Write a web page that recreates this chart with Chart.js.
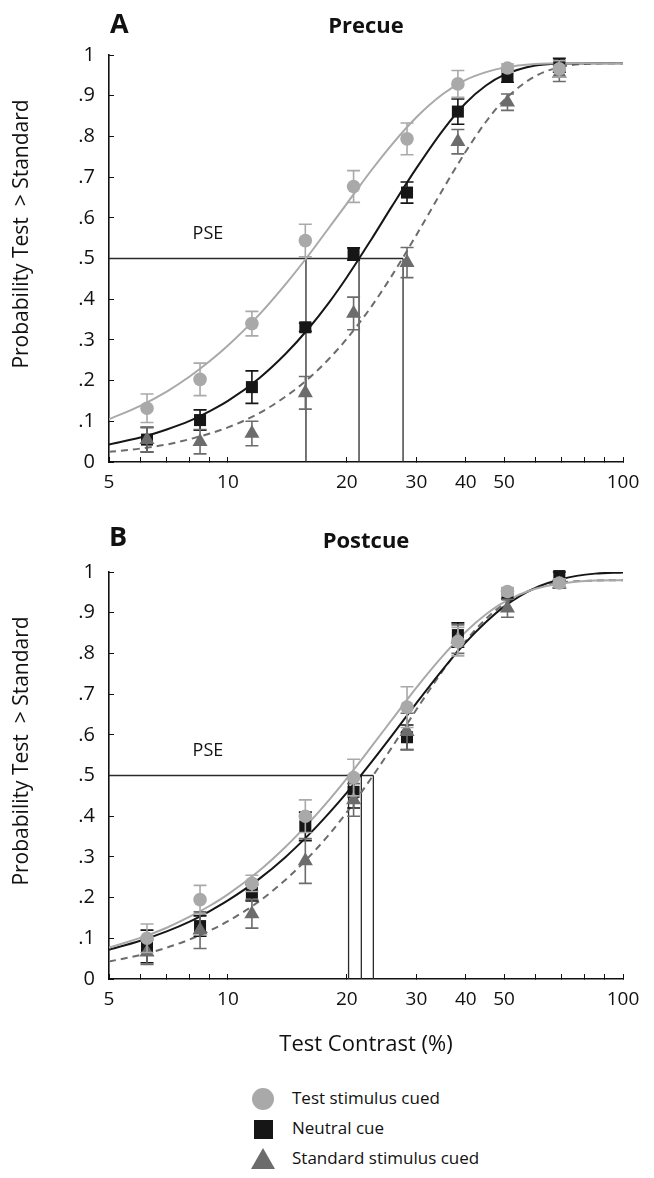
<!DOCTYPE html>
<html><head><meta charset="utf-8">
<script src="https://cdn.jsdelivr.net/npm/chart.js@4.4.0/dist/chart.umd.min.js"></script>
<style>
html,body{margin:0;padding:0;background:#fff;}
body{width:654px;height:1178px;position:relative;overflow:hidden;font-family:"Open Sans",sans-serif;color:#111;}
.abs{position:absolute;white-space:nowrap;line-height:1;}
.bold{font-weight:700;}
canvas{position:absolute;left:0;}
</style></head><body>
<canvas id="c1" width="654" height="500" style="top:0"></canvas>
<canvas id="c2" width="654" height="570" style="top:500px"></canvas>
<div class="abs bold" style="left:110px;top:9px;font-size:27px;">A</div>
<div class="abs bold" style="left:366px;top:13px;font-size:22px;transform:translateX(-50%);">Precue</div>
<div class="abs bold" style="left:109px;top:522px;font-size:27px;">B</div>
<div class="abs bold" style="left:366px;top:528px;font-size:22px;transform:translateX(-50%);">Postcue</div>
<div id="legend"></div>
<script>
// ---------- data ----------
const seriesNames = ['Test stimulus cued', 'Neutral cue', 'Standard stimulus cued'];
const contrast = [6.24, 8.5, 11.5, 15.7, 20.8, 28.4, 38.2, 51, 69];

// Panel A: Precue
const preTest        = [0.132, 0.203, 0.340, 0.544, 0.677, 0.794, 0.929, 0.968, 0.966];
const preTestErr     = [0.035, 0.040, 0.030, 0.040, 0.039, 0.039, 0.033, 0.010, 0.020];
const preNeutral     = [0.055, 0.103, 0.184, 0.331, 0.511, 0.662, 0.861, 0.948, 0.975];
const preNeutralErr  = [0.030, 0.025, 0.040, 0.010, 0.015, 0.026, 0.031, 0.015, 0.017];
const preStandard    = [0.055, 0.050, 0.070, 0.170, 0.365, 0.490, 0.787, 0.884, 0.955];
const preStandardErr = [0.030, 0.030, 0.030, 0.040, 0.040, 0.037, 0.030, 0.020, 0.020];

// Panel B: Postcue
const postTest        = [0.100, 0.195, 0.235, 0.400, 0.495, 0.668, 0.829, 0.952, 0.973];
const postTestErr     = [0.035, 0.035, 0.020, 0.040, 0.045, 0.050, 0.035, 0.010, 0.010];
const postNeutral     = [0.080, 0.130, 0.212, 0.375, 0.460, 0.594, 0.845, 0.945, 0.990];
const postNeutralErr  = [0.040, 0.025, 0.020, 0.035, 0.040, 0.030, 0.030, 0.010, 0.010];
const postStandard    = [0.066, 0.120, 0.160, 0.290, 0.440, 0.608, 0.835, 0.911, 0.970];
const postStandardErr = [0.030, 0.045, 0.035, 0.055, 0.040, 0.045, 0.035, 0.022, 0.010];

// fitted curves
const curveX = [5, 6, 7, 8, 9, 10, 12, 14, 16, 18, 20, 23, 26, 30, 35, 40, 45, 50, 60, 70, 85, 100];
const preTestFit      = [0.105,0.138,0.173,0.210,0.248,0.286,0.362,0.437,0.508,0.575,0.635,0.715,0.780,0.847,0.904,0.939,0.958,0.969,0.978,0.980,0.980,0.980];
const preNeutralFit   = [0.043,0.060,0.080,0.101,0.125,0.150,0.206,0.266,0.328,0.391,0.454,0.545,0.628,0.722,0.815,0.882,0.925,0.951,0.974,0.979,0.980,0.980];
const preStandardFit  = [0.025,0.033,0.043,0.056,0.070,0.085,0.120,0.161,0.205,0.253,0.303,0.380,0.458,0.558,0.670,0.763,0.836,0.889,0.948,0.971,0.979,0.980];
const postTestFit     = [0.077,0.101,0.126,0.153,0.180,0.208,0.266,0.325,0.383,0.439,0.493,0.569,0.637,0.716,0.794,0.853,0.896,0.926,0.959,0.972,0.979,0.980];
const postNeutralFit  = [0.072,0.094,0.117,0.141,0.167,0.193,0.246,0.300,0.354,0.407,0.458,0.531,0.598,0.678,0.761,0.827,0.877,0.915,0.961,0.983,0.996,0.999];
const postStandardFit = [0.043,0.059,0.077,0.097,0.119,0.142,0.191,0.244,0.299,0.354,0.410,0.492,0.569,0.662,0.758,0.831,0.885,0.921,0.960,0.974,0.979,0.980];

// points of subjective equality (test, neutral, standard)
const prePSE  = [15.76, 21.47, 27.75];
const postPSE = [20.2, 21.76, 23.34];

// axes
const xTickValues = [5, 6, 7, 8, 9, 10, 20, 30, 40, 50, 60, 70, 80, 90, 100];
const xTickLabels = [5, 10, 20, 30, 40, 50, 100];
const yTickLabels = ['0', '.1', '.2', '.3', '.4', '.5', '.6', '.7', '.8', '.9', '1'];

// ---------- styling ----------
const COL_TEST = '#a9a9a9', COL_NEU = '#161616', COL_STD = '#6c6c6c';
const FONT = '"Open Sans", sans-serif';
Chart.defaults.font.family = FONT;
Chart.defaults.color = '#111';

const errorBarPlugin = {
  id: 'errorBars',
  beforeDatasetDraw(chart, args) {
    const ds = chart.data.datasets[args.index];
    if (!ds.errors) return;
    const {ctx, scales: {x, y}} = chart;
    ctx.save();
    ctx.strokeStyle = ds.errorColor;
    ctx.lineWidth = 1.6;
    ds.data.forEach((pt, i) => {
      const e = ds.errors[i];
      const px = x.getPixelForValue(pt.x);
      const yt = y.getPixelForValue(pt.y + e);
      const yb = y.getPixelForValue(pt.y - e);
      ctx.beginPath();
      ctx.moveTo(px, yt); ctx.lineTo(px, yb);
      ctx.moveTo(px - 6.5, yt); ctx.lineTo(px + 6.5, yt);
      ctx.moveTo(px - 6.5, yb); ctx.lineTo(px + 6.5, yb);
      ctx.stroke();
    });
    ctx.restore();
  }
};

const textLabelPlugin = {
  id: 'textLabel',
  afterDatasetsDraw(chart, args, opts) {
    if (!opts || !opts.text) return;
    const {ctx, scales: {x, y}} = chart;
    ctx.save();
    ctx.font = '18px ' + FONT;
    ctx.fillStyle = '#111';
    ctx.textAlign = 'center';
    ctx.textBaseline = 'middle';
    ctx.fillText(opts.text, x.getPixelForValue(opts.x), y.getPixelForValue(opts.y));
    ctx.restore();
  }
};

function pts(vals) { return contrast.map((c, i) => ({x: c, y: vals[i]})); }
function curve(vals) { return curveX.map((c, i) => ({x: c, y: vals[i]})); }

function buildDatasets(t, te, n, ne, s, se, tf, nf, sf, pse) {
  const pseMax = Math.max(...pse);
  const marker = (label, data, err, style, color, r) => ({
    label, data, errors: err, errorColor: color, showLine: false,
    pointStyle: style, pointRadius: r, pointHoverRadius: r,
    pointBackgroundColor: color, pointBorderColor: color, pointBorderWidth: 0,
    borderColor: color, backgroundColor: color, clip: false
  });
  const line = (label, data, color, dash) => ({
    label, data, borderColor: color, borderWidth: 2, borderDash: dash || [],
    pointRadius: 0, tension: 0.4, cubicInterpolationMode: 'monotone', fill: false
  });
  const ds = [
    marker(seriesNames[0], pts(t), te, 'circle', COL_TEST, 6.8),
    marker(seriesNames[2], pts(s), se, 'triangle', COL_STD, 8.7),
    marker(seriesNames[1], pts(n), ne, 'rect', COL_NEU, 8.5),
    line('fit test', curve(tf), COL_TEST),
    line('fit neutral', curve(nf), COL_NEU),
    line('fit standard', curve(sf), COL_STD, [7, 5]),
    {label: 'PSE', data: [{x: 5, y: 0.5}, {x: pseMax, y: 0.5}], borderColor: '#2a2a2a', borderWidth: 1.3, pointRadius: 0, tension: 0}
  ];
  pse.forEach((p, i) => ds.push({label: 'PSE ' + i, data: [{x: p, y: 0}, {x: p, y: 0.5}], borderColor: '#2a2a2a', borderWidth: 1.3, pointRadius: 0, tension: 0}));
  return ds;
}

function makeOptions(padTop, xHeight, showXTitle) {
  const tickGrid = {display: true, drawOnChartArea: false, drawTicks: true, tickLength: -5, color: '#111', lineWidth: 1};
  return {
    responsive: false, animation: false,
    layout: {padding: {top: padTop, right: 31, left: 0, bottom: 0}},
    plugins: {legend: {display: false}, tooltip: {enabled: false},
              textLabel: {text: 'PSE', x: 8.9, y: 0.56}},
    scales: {
      x: {
        type: 'logarithmic', min: 5, max: 100,
        grid: tickGrid,
        border: {display: true, color: '#111', width: 1.6},
        afterBuildTicks: (sc) => { sc.ticks = xTickValues.map(v => ({value: v})); },
        afterFit: (sc) => { sc.height = xHeight; },
        ticks: {
          autoSkip: false, maxRotation: 0, padding: 14,
          font: {size: 19}, color: '#111',
          callback: (v) => xTickLabels.includes(v) ? String(v) : ''
        },
        title: {display: showXTitle, text: 'Test Contrast (%)', font: {size: 22}, color: '#111', padding: {bottom: 12, top: 0}}
      },
      y: {
        min: 0, max: 1,
        grid: tickGrid,
        border: {display: true, color: '#111', width: 1.6},
        afterBuildTicks: (sc) => { sc.ticks = yTickLabels.map((l, i) => ({value: i / 10})); },
        afterFit: (sc) => { sc.width = 109; },
        ticks: {
          padding: 19, font: {size: 20}, color: '#111',
          callback: (v, i) => yTickLabels[i]
        },
        title: {display: true, text: '         Probability Test  > Standard', font: {size: 21}, color: '#111', padding: {top: 9}}
      }
    }
  };
}

const plugins = [errorBarPlugin, textLabelPlugin];

new Chart(document.getElementById('c1'), {
  type: 'line',
  data: {datasets: buildDatasets(preTest, preTestErr, preNeutral, preNeutralErr, preStandard, preStandardErr,
                                 preTestFit, preNeutralFit, preStandardFit, prePSE)},
  options: makeOptions(55, 38, false),
  plugins
});

new Chart(document.getElementById('c2'), {
  type: 'line',
  data: {datasets: buildDatasets(postTest, postTestErr, postNeutral, postNeutralErr, postStandard, postStandardErr,
                                 postTestFit, postNeutralFit, postStandardFit, postPSE)},
  options: makeOptions(72, 91, true),
  plugins
});

// legend
const legendItems = [
  {name: seriesNames[0], cy: 1099, html: '<div class="abs" style="left:252px;top:1088px;width:22px;height:22px;border-radius:50%;background:' + COL_TEST + '"></div>'},
  {name: seriesNames[1], cy: 1129, html: '<div class="abs" style="left:254px;top:1120px;width:19px;height:19px;background:' + COL_NEU + '"></div>'},
  {name: seriesNames[2], cy: 1159, html: '<div class="abs" style="left:251px;top:1148px;width:0;height:0;border-left:12px solid transparent;border-right:12px solid transparent;border-bottom:21px solid ' + COL_STD + '"></div>'}
];
document.getElementById('legend').innerHTML = legendItems.map(it =>
  it.html + '<div class="abs" style="left:292px;top:' + (it.cy - 10) + 'px;font-size:17px;">' + it.name + '</div>'
).join('');
</script>
</body></html>
